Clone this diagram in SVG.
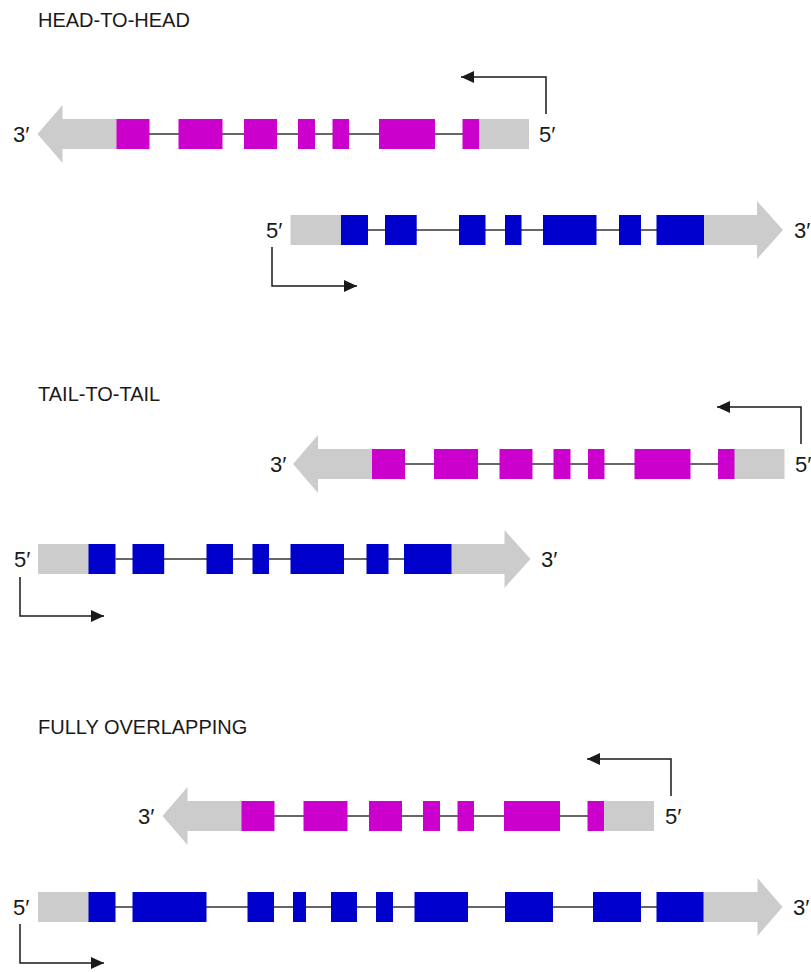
<svg xmlns="http://www.w3.org/2000/svg" width="811" height="972" viewBox="0 0 811 972">
  <style>
    .title { font-family: "Liberation Sans", "DejaVu Sans", sans-serif; font-size: 20px; fill: #1a1a1a; }
    .end { font-family: "Liberation Sans", "DejaVu Sans", sans-serif; font-size: 22px; fill: #1a1a1a; }
    .utr { fill: #cccccc; }
    .exon-rev { fill: #cc00cc; }
    .exon-fwd { fill: #0000cc; }
    .intron { stroke: #333333; stroke-width: 1.5; fill: none; }
    .tss { stroke: #1a1a1a; stroke-width: 1.5; fill: none; marker-end: url(#head); }
  </style>
  <defs>
    <marker id="head" viewBox="0 0 13 12" refX="13" refY="6" markerWidth="13" markerHeight="12" markerUnits="userSpaceOnUse" orient="auto">
      <path d="M0,0 L13,6 L0,12 Z" fill="#1a1a1a"/>
    </marker>
    <!-- reverse-strand gene: 3' UTR arrowhead on the left, 5' UTR on the right -->
    <g id="rev-gene">
      <path class="utr" d="M37.5,134 L62.5,105 L62.5,119 L117,119 L117,149 L62.5,149 L62.5,163 Z"/>
      <rect class="utr" x="478.5" y="119" width="50.5" height="30"/>
      <line class="intron" x1="149" y1="134" x2="463" y2="134"/>
      <rect class="exon-rev" x="116.5" y="119" width="33" height="30"/>
      <rect class="exon-rev" x="178.5" y="119" width="44" height="30"/>
      <rect class="exon-rev" x="244" y="119" width="33" height="30"/>
      <rect class="exon-rev" x="298" y="119" width="17" height="30"/>
      <rect class="exon-rev" x="332.5" y="119" width="16.5" height="30"/>
      <rect class="exon-rev" x="379" y="119" width="56" height="30"/>
      <rect class="exon-rev" x="462.5" y="119" width="16.5" height="30"/>
    </g>
    <!-- forward-strand gene with seven exons -->
    <g id="fwd-gene">
      <rect class="utr" x="290.5" y="215" width="51" height="30"/>
      <path class="utr" d="M703.5,215 L757,215 L757,201 L783,230 L757,259 L757,245 L703.5,245 Z"/>
      <line class="intron" x1="368" y1="230" x2="657" y2="230"/>
      <rect class="exon-fwd" x="341" y="215" width="27" height="30"/>
      <rect class="exon-fwd" x="385" y="215" width="31.7" height="30"/>
      <rect class="exon-fwd" x="459" y="215" width="26.5" height="30"/>
      <rect class="exon-fwd" x="505" y="215" width="16.5" height="30"/>
      <rect class="exon-fwd" x="543" y="215" width="53.5" height="30"/>
      <rect class="exon-fwd" x="619" y="215" width="22" height="30"/>
      <rect class="exon-fwd" x="656.5" y="215" width="47.5" height="30"/>
    </g>
  </defs>

  <!-- section headings -->
  <text class="title" x="38" y="27">HEAD-TO-HEAD</text>
  <text class="title" x="38" y="401">TAIL-TO-TAIL</text>
  <text class="title" x="38" y="734">FULLY OVERLAPPING</text>

  <!-- head-to-head pair -->
  <g id="h2h-reverse">
    <use href="#rev-gene"/>
    <text class="end" x="13" y="142">3′</text>
    <text class="end" x="539" y="142">5′</text>
  </g>
  <g id="h2h-forward">
    <use href="#fwd-gene"/>
    <text class="end" x="266" y="238">5′</text>
    <text class="end" x="794" y="238">3′</text>
  </g>

  <!-- tail-to-tail pair -->
  <g id="t2t-reverse">
    <use href="#rev-gene" transform="translate(255.5,330)"/>
    <text class="end" x="270" y="472">3′</text>
    <text class="end" x="795" y="472">5′</text>
  </g>
  <g id="t2t-forward">
    <use href="#fwd-gene" transform="translate(-252.5,329)"/>
    <text class="end" x="14" y="567">5′</text>
    <text class="end" x="541" y="567">3′</text>
  </g>

  <!-- fully overlapping pair -->
  <g id="overlap-reverse">
    <use href="#rev-gene" transform="translate(125,682)"/>
    <text class="end" x="138" y="824">3′</text>
    <text class="end" x="665" y="824">5′</text>
  </g>
  <g id="overlap-forward">
    <rect class="utr" x="38" y="892" width="51" height="30"/>
    <path class="utr" d="M703,892 L757.5,892 L757.5,878 L782.5,907 L757.5,936 L757.5,922 L703,922 Z"/>
    <line class="intron" x1="115" y1="907" x2="657" y2="907"/>
    <rect class="exon-fwd" x="88.5" y="892" width="27" height="30"/>
    <rect class="exon-fwd" x="132.5" y="892" width="74" height="30"/>
    <rect class="exon-fwd" x="247.5" y="892" width="26.5" height="30"/>
    <rect class="exon-fwd" x="293" y="892" width="13" height="30"/>
    <rect class="exon-fwd" x="331" y="892" width="26" height="30"/>
    <rect class="exon-fwd" x="376" y="892" width="17" height="30"/>
    <rect class="exon-fwd" x="414.5" y="892" width="53.5" height="30"/>
    <rect class="exon-fwd" x="505" y="892" width="48" height="30"/>
    <rect class="exon-fwd" x="593" y="892" width="48" height="30"/>
    <rect class="exon-fwd" x="656.5" y="892" width="47" height="30"/>
    <text class="end" x="13" y="915">5′</text>
    <text class="end" x="793" y="915">3′</text>
  </g>

  <!-- transcription start arrows -->
  <g id="tss-arrows">
    <path class="tss" d="M546,114 V77 H461"/>
    <path class="tss" d="M272,247 V286 H357"/>
    <path class="tss" d="M801,444 V407 H717"/>
    <path class="tss" d="M20,577 V616 H104"/>
    <path class="tss" d="M671,796 V759 H587"/>
    <path class="tss" d="M20,924 V963 H104"/>
  </g>
</svg>
